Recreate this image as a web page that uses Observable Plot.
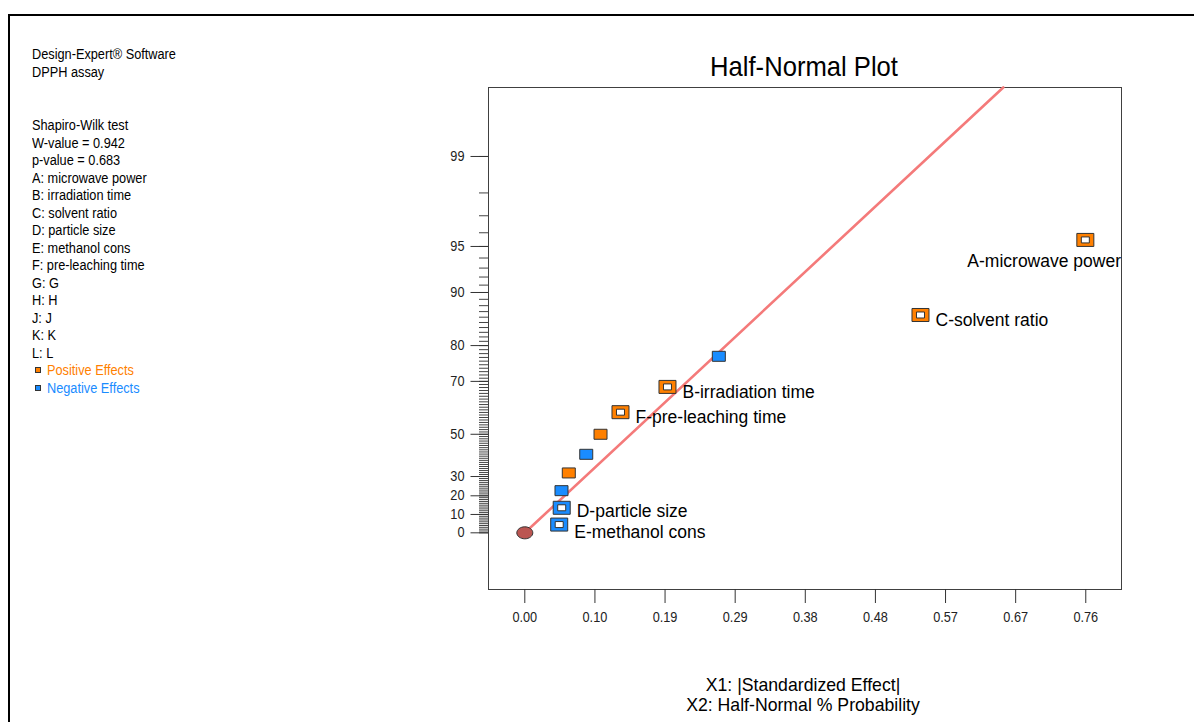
<!DOCTYPE html>
<html>
<head>
<meta charset="utf-8">
<script src="https://cdn.jsdelivr.net/npm/d3@7"></script>
<script src="https://cdn.jsdelivr.net/npm/@observablehq/plot@0.6"></script>
<style>
  body { margin: 0; background: #fff; }
  #page { position: relative; width: 1194px; height: 722px; overflow: hidden; background: #fff; }
  #border { position: absolute; left: 8px; top: 14px; width: 1300px; height: 900px;
            border-top: 2px solid #000; border-left: 2px solid #000; }
  #chart { position: absolute; left: 0; top: 0; }
  .t { position: absolute; white-space: pre; transform-origin: 0 0;
       font-family: "Liberation Sans", Arial, Helvetica, sans-serif; }
  .swatch { position: absolute; width: 4px; height: 4px; border: 1px solid #333; }
</style>
</head>
<body>
<div id="page">
  <div id="border"></div>
  <div id="chart"></div>
</div>
<script>
// ---- Side panel text ----
const panelHeader = ["Design-Expert\u00AE Software", "DPPH assay"];
const panelStats = ["Shapiro-Wilk test", "W-value = 0.942", "p-value = 0.683"];
const factorKeys = [
  "A: microwave power", "B: irradiation time", "C: solvent ratio", "D: particle size",
  "E: methanol cons", "F: pre-leaching time", "G: G", "H: H", "J: J", "K: K", "L: L"
];
const legendItems = ["Positive Effects", "Negative Effects"];

// ---- Effects, ordered by |standardized effect| ----
const termIds = ["E", "D", "", "", "", "", "F", "B", "", "C", "A"];
const termLabels = ["E-methanol cons", "D-particle size", "", "", "", "", "F-pre-leaching time",
                    "B-irradiation time", "", "C-solvent ratio", "A-microwave power"];
const effects = [0.0467, 0.0501, 0.0498, 0.0597, 0.0834, 0.1028, 0.1299, 0.1937, 0.2634, 0.5372, 0.7610];
const halfNormalPct = [4.5, 13.6, 22.7, 31.8, 40.9, 50.0, 59.1, 68.2, 77.3, 86.4, 95.5];
const effectSigns = ["-", "-", "-", "+", "-", "+", "+", "+", "-", "+", "+"];

// Reference line through the origin: effect per unit of half-normal quantile
const fitSigma = 0.2131;

// ---- Axes ----
const xTickValues = [0, 0.0952, 0.1904, 0.2856, 0.3808, 0.4760, 0.5712, 0.6664, 0.7616];
const yTickPct = [0, 10, 20, 30, 50, 70, 80, 90, 95, 99];
const yTickLabels = ["0", "10", "20", "30", "50", "70", "80", "90", "95", "99"];
const xDomain = [-0.0493, 0.8101];
const yDomain = [-0.388, 3.048]; // in half-normal quantile units

const chartTitle = "Half-Normal Plot";
const axisTitles = ["X1: |Standardized Effect|", "X2: Half-Normal % Probability"];

const POS = "#ff8000", NEG = "#1a8cff", EDGE = "#333";

// Inverse standard normal CDF (Acklam's rational approximation)
function qnorm(p) {
  const a = [-3.969683028665376e+01, 2.209460984245205e+02, -2.759285104469687e+02, 1.383577518672690e+02, -3.066479806614716e+01, 2.506628277459239e+00];
  const b = [-5.447609879822406e+01, 1.615858368580409e+02, -1.556989798598866e+02, 6.680131188771972e+01, -1.328068155288572e+01];
  const c = [-7.784894002430293e-03, -3.223964580411365e-01, -2.400758277161838e+00, -2.549732539343734e+00, 4.374664141464968e+00, 2.938163982698783e+00];
  const d = [7.784695709041462e-03, 3.224671290700398e-01, 2.445134137142996e+00, 3.754408661907416e+00];
  const plow = 0.02425, phigh = 1 - plow;
  if (p < plow) {
    const q = Math.sqrt(-2 * Math.log(p));
    return (((((c[0]*q+c[1])*q+c[2])*q+c[3])*q+c[4])*q+c[5]) / ((((d[0]*q+d[1])*q+d[2])*q+d[3])*q+1);
  }
  if (p > phigh) {
    const q = Math.sqrt(-2 * Math.log(1 - p));
    return -(((((c[0]*q+c[1])*q+c[2])*q+c[3])*q+c[4])*q+c[5]) / ((((d[0]*q+d[1])*q+d[2])*q+d[3])*q+1);
  }
  const q = p - 0.5, r = q * q;
  return (((((a[0]*r+a[1])*r+a[2])*r+a[3])*r+a[4])*r+a[5])*q / (((((b[0]*r+b[1])*r+b[2])*r+b[3])*r+b[4])*r+1);
}
// half-normal % probability -> quantile
const hz = (pct) => qnorm(0.5 + pct / 200);

const points = effects.map((e, i) => ({
  id: termIds[i], label: termLabels[i], effect: e, z: hz(halfNormalPct[i]), sign: effectSigns[i]
}));
const origin = [{effect: 0, z: 0}];
const fitLine = [{effect: 0, z: 0}, {effect: yDomain[1] * fitSigma, z: yDomain[1]}];

const majorZ = yTickPct.map(hz);
const majorLabel = new Map(majorZ.map((z, i) => [z, yTickLabels[i]]));
const minorZ = d3.range(0, 100).map(hz);

// custom marker shapes
const rectSymbol = (w, h) => ({draw(ctx) { ctx.rect(-w / 2, -h / 2, w, h); }});
const ellipseSymbol = (w, h) => ({draw(ctx) {
  const rx = w / 2, ry = h / 2, k = 0.5523;
  ctx.moveTo(rx, 0);
  ctx.bezierCurveTo(rx, k * ry, k * rx, ry, 0, ry);
  ctx.bezierCurveTo(-k * rx, ry, -rx, k * ry, -rx, 0);
  ctx.bezierCurveTo(-rx, -k * ry, -k * rx, -ry, 0, -ry);
  ctx.bezierCurveTo(k * rx, -ry, rx, -k * ry, rx, 0);
  ctx.closePath();
}});

const solid = points.filter(d => !d.label);
const picked = points.filter(d => d.label);
const labelOffsets = {A: [-118, 21], B: [15, 5], C: [15, 5.5], D: [15, 4], E: [15, 7.5], F: [15, 5]};

const chart = Plot.plot({
  width: 1194,
  height: 722,
  marginLeft: 488,
  marginRight: 73,
  marginTop: 87,
  marginBottom: 133,
  style: {background: "none", fontFamily: "'Liberation Sans', Arial, sans-serif", fontSize: "14px", color: "#222"},
  x: {domain: xDomain, label: null},
  y: {domain: yDomain, label: null},
  marks: [
    Plot.frame({stroke: "#404040"}),
    Plot.axisY(minorZ, {tickSize: 9, tickFormat: () => "", stroke: "#444", label: null}),
    Plot.axisY(majorZ, {tickSize: 17.5, tickPadding: 6.5, tickFormat: z => majorLabel.get(z), stroke: "#333", label: null}),
    Plot.axisX(xTickValues, {tickSize: 14, tickPadding: 9, tickFormat: ".2f", stroke: "#333", label: null}),
    Plot.line(fitLine, {x: "effect", y: "z", stroke: "#f47a7a", strokeWidth: 2.6}),
    Plot.dot(origin, {x: "effect", y: "z", symbol: ellipseSymbol(16, 12), fill: "#bb5551", stroke: EDGE, strokeWidth: 1}),
    Plot.dot(solid.filter(d => d.sign === "+"), {x: "effect", y: "z", symbol: rectSymbol(13, 10), fill: POS, stroke: EDGE, strokeWidth: 1}),
    Plot.dot(solid.filter(d => d.sign === "-"), {x: "effect", y: "z", symbol: rectSymbol(13, 10), fill: NEG, stroke: EDGE, strokeWidth: 1}),
    Plot.dot(picked.filter(d => d.sign === "+"), {x: "effect", y: "z", symbol: rectSymbol(17, 13), fill: POS, stroke: EDGE, strokeWidth: 1}),
    Plot.dot(picked.filter(d => d.sign === "-"), {x: "effect", y: "z", symbol: rectSymbol(17, 13), fill: NEG, stroke: EDGE, strokeWidth: 1}),
    Plot.dot(picked, {x: "effect", y: "z", symbol: rectSymbol(8, 6), fill: "#fff", stroke: EDGE, strokeWidth: 1}),
    ...picked.map(d => Plot.text([d], {
      x: "effect", y: "z", text: "label", textAnchor: "start",
      dx: labelOffsets[d.id][0], dy: labelOffsets[d.id][1], fontSize: 17.5, fill: "#000"
    }))
  ]
});

// slightly condensed lettering for the tick labels; point labels at full width
chart.querySelectorAll("text").forEach(t => {
  const tr = t.getAttribute("transform");
  const g = t.closest("g[font-size]");
  const big = g && +g.getAttribute("font-size") > 16;
  if (tr && !big) t.setAttribute("transform", tr + " scale(0.91,1)");
});
document.getElementById("chart").appendChild(chart);

// ---- HTML text around the plot ----
const page = document.getElementById("page");
function addText(str, x, capY, size, {anchor = "start", color = "#000", squeeze = 0.91} = {}) {
  const el = document.createElement("div");
  el.className = "t";
  el.textContent = str;
  el.style.fontSize = size + "px";
  el.style.lineHeight = size + "px";
  el.style.color = color;
  el.style.left = x + "px";
  el.style.top = (capY - 0.4885 * size) + "px";
  const shift = anchor === "middle" ? " translateX(-50%)" : anchor === "end" ? " translateX(-100%)" : "";
  el.style.transform = `scaleX(${squeeze})${shift}`;
  page.appendChild(el);
  return el;
}

const lineStep = 17.5;
panelHeader.forEach((s, i) => addText(s, 31.5, 54 + i * lineStep, 14));
[...panelStats, ...factorKeys].forEach((s, i) => addText(s, 31.5, 125.3 + i * lineStep, 14));
const legendColors = [POS, NEG];
legendItems.forEach((s, i) => {
  const cy = 125.3 + (panelStats.length + factorKeys.length + i) * lineStep;
  addText(s, 46.7, cy, 14, {color: legendColors[i]});
  const sw = document.createElement("div");
  sw.className = "swatch";
  sw.style.left = "35px";
  sw.style.top = (cy - 3) + "px";
  sw.style.background = legendColors[i];
  page.appendChild(sw);
});

addText(chartTitle, 803.5, 66.7, 28, {anchor: "middle", squeeze: 0.915});
axisTitles.forEach((s, i) => addText(s, 802.5, 684 + i * 20.5, 19, {anchor: "middle", squeeze: 0.93}));
</script>
</body>
</html>
